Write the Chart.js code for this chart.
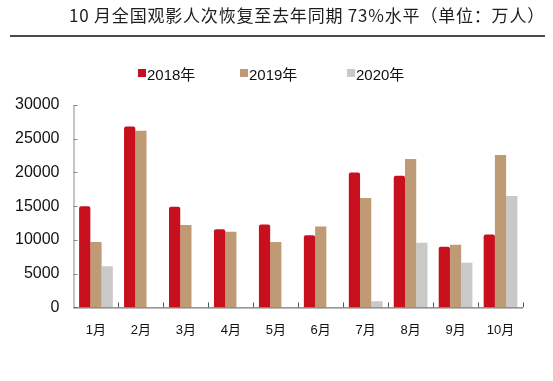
<!DOCTYPE html>
<html>
<head>
<meta charset="utf-8">
<script src="https://cdn.jsdelivr.net/npm/chart.js@4"></script>
<style>
  html, body { margin: 0; padding: 0; background: #fff; }
  #wrap { position: relative; width: 553px; height: 381px; overflow: hidden; }
  #chart { position: absolute; left: 0; top: 0; }
  #title { position: absolute; right: 8px; top: 5px; font-family: "Noto Sans CJK SC", sans-serif;
           font-size: 17px; letter-spacing: 0.8px; color: #1e1e1e; white-space: nowrap; line-height: 20px; }
  #rule { position: absolute; left: 10px; width: 535px; top: 35px; height: 2px; background: #4a4a4a; }
  #legend { position: absolute; top: 64px; left: 0; width: 553px; height: 18px;
            font-family: "Liberation Sans", Arial, "Noto Sans CJK SC", sans-serif; font-size: 15px; color: #111; }
  .li { position: absolute; top: 0; display: flex; align-items: center; height: 18px; white-space: nowrap; }
  .sw { width: 8px; height: 8px; margin-right: 1px; display: inline-block; }
</style>
</head>
<body>
<div id="wrap">
  <canvas id="chart" width="553" height="381"></canvas>
  <div id="title">10 月全国观影人次恢复至去年同期 73%水平（单位：万人）</div>
  <div id="rule"></div>
  <div id="legend"></div>
</div>
<script>
const categories = ['1月','2月','3月','4月','5月','6月','7月','8月','9月','10月'];
const seriesNames = ['2018年','2019年','2020年'];
const values2018 = [15000, 26800, 14900, 11600, 12300, 10700, 20000, 19500, 9000, 10800];
const values2019 = [9700, 26200, 12200, 11200, 9700, 12000, 16200, 22000, 9300, 22600];
const values2020 = [6100, 0, 0, 0, 0, 0, 900, 9600, 6600, 16500];
const yTicks = [0, 5000, 10000, 15000, 20000, 25000, 30000];
const colors = ['#C70F1E', '#BE9A75', '#C9C9C9'];

// HTML legend
const legendPos = [138, 240, 347];
const lg = document.getElementById('legend');
seriesNames.forEach((n, i) => {
  const d = document.createElement('div');
  d.className = 'li';
  d.style.left = legendPos[i] + 'px';
  const s = document.createElement('span');
  s.className = 'sw';
  s.style.background = colors[i];
  d.appendChild(s);
  d.appendChild(document.createTextNode(n));
  lg.appendChild(d);
});

const axisTicks = {
  id: 'axisTicks',
  afterDatasetsDraw(chart) {
    const ctx = chart.ctx;
    const x = chart.scales.x, y = chart.scales.y;
    const ca = chart.chartArea;
    ctx.save();
    ctx.strokeStyle = '#8a8a8a';
    ctx.lineWidth = 1;
    ctx.beginPath();
    ctx.moveTo(ca.left + 0.5, ca.top);
    ctx.lineTo(ca.left + 0.5, ca.bottom);
    yTicks.forEach(v => {
      const py = Math.round(y.getPixelForValue(v)) + 0.5;
      ctx.moveTo(ca.left, py);
      ctx.lineTo(ca.left + 4, py);
    });
    ctx.stroke();
    ctx.strokeStyle = '#555';
    ctx.beginPath();
    ctx.moveTo(ca.left, ca.bottom + 0.5);
    ctx.lineTo(ca.right, ca.bottom + 0.5);
    const n = categories.length;
    for (let i = 1; i <= n; i++) {
      const px = Math.round((x.getPixelForValue(i - 1) + (i < n ? x.getPixelForValue(i) : 2 * x.getPixelForValue(i - 1) - x.getPixelForValue(i - 2))) / 2) + 0.5;
      ctx.moveTo(px, ca.bottom);
      ctx.lineTo(px, ca.bottom - 5);
    }
    ctx.stroke();
    ctx.restore();
  }
};

new Chart(document.getElementById('chart'), {
  type: 'bar',
  data: {
    labels: categories,
    datasets: [
      { label: seriesNames[0], data: values2018, backgroundColor: colors[0], borderRadius: {topLeft: 2, topRight: 2}, borderSkipped: 'bottom' },
      { label: seriesNames[1], data: values2019, backgroundColor: colors[1] },
      { label: seriesNames[2], data: values2020, backgroundColor: colors[2] }
    ]
  },
  plugins: [axisTicks],
  options: {
    responsive: false,
    animation: false,
    layout: { padding: { top: 105, right: 30, bottom: 28, left: 1 } },
    plugins: { legend: { display: false }, title: { display: false }, tooltip: { enabled: false } },
    datasets: { bar: { categoryPercentage: 0.75, barPercentage: 1.0 } },
    scales: {
      x: {
        grid: { display: false, drawTicks: false },
        border: { display: false },
        ticks: { color: '#111', padding: 15, font: { family: '"Liberation Sans", Arial, "Noto Sans CJK SC", sans-serif', size: 13 } }
      },
      y: {
        min: 0, max: 30000,
        afterBuildTicks: (axis) => { axis.ticks = yTicks.map(v => ({ value: v })); },
        grid: { display: false, drawTicks: false },
        border: { display: false },
        ticks: { color: '#111', padding: 14, callback: (v) => String(v), font: { family: '"Liberation Sans", Arial, sans-serif', size: 16 } }
      }
    }
  }
});
</script>
</body>
</html>
